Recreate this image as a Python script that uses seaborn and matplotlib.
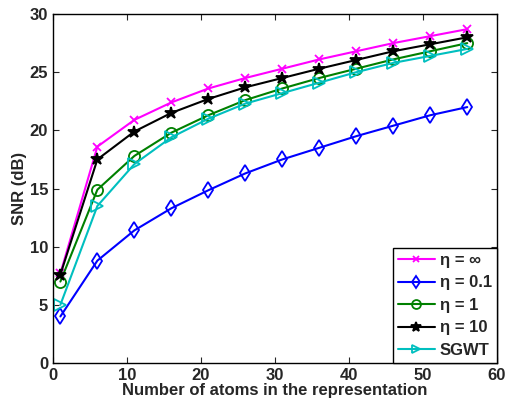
import numpy as np
import pandas as pd
import matplotlib
matplotlib.use("Agg")
import matplotlib.pyplot as plt
import seaborn as sns

# number of atoms used
atoms = [1, 6, 11, 16, 21, 26, 31, 36, 41, 46, 51, 56]

# SNR (dB)
snr_inf = [7.7, 18.6, 20.9, 22.4, 23.6, 24.5, 25.3, 26.1, 26.8, 27.5, 28.1, 28.7]
snr_01 = [4.0, 8.8, 11.4, 13.3, 14.85, 16.3, 17.5, 18.5, 19.5, 20.4, 21.3, 22.0]
snr_1 = [7.0, 14.9, 17.8, 19.8, 21.3, 22.6, 23.6, 24.5, 25.3, 26.1, 26.8, 27.5]
snr_10 = [7.6, 17.5, 19.9, 21.5, 22.7, 23.7, 24.5, 25.3, 26.05, 26.8, 27.4, 28.0]
snr_sgwt = [5.0, 13.5, 17.1, 19.4, 21.0, 22.3, 23.2, 24.1, 25.0, 25.8, 26.4, 27.0]

labels = ["\u03b7 = \u221e", "\u03b7 = 0.1", "\u03b7 = 1", "\u03b7 = 10", "SGWT"]

sns.set_style("ticks")
plt.rcParams['font.family'] = ['Liberation Sans', 'DejaVu Sans']
plt.rcParams['font.weight'] = 'bold'
plt.rcParams['axes.labelweight'] = 'bold'

series = [snr_inf, snr_01, snr_1, snr_10, snr_sgwt]
colors = ['#ff00ff', '#0000ff', '#008000', '#000000', '#00bfbf']
markers = ['x', 'd', 'o', '*', '>']
fills = ['#ff00ff', 'none', 'none', '#000000', 'none']
msizes = [6, 8, 8, 9, 8]

fig = plt.figure(figsize=(5.07, 4.01), dpi=100)
ax = fig.add_axes([0.1045, 0.0948, 0.8755, 0.8702])

for vals, lab, c, m, f, ms in zip(series, labels, colors, markers, fills, msizes):
    df = pd.DataFrame({'atoms': atoms, 'snr': vals})
    sns.lineplot(data=df, x='atoms', y='snr', ax=ax, color=c, marker=m,
                 markerfacecolor=f, markeredgecolor=c, markeredgewidth=1.3,
                 markersize=ms, linewidth=1.5, label=lab)

ax.set_xlim(0, 60)
ax.set_ylim(0, 30)
ax.set_xticks(np.arange(0, 61, 10))
ax.set_yticks(np.arange(0, 31, 5))
ax.tick_params(direction='in', top=True, right=True, labelsize=12, length=4, width=0.8)
for s in ax.spines.values():
    s.set_linewidth(1.0)
    s.set_color('black')
ax.set_xlabel('Number of atoms in the representation', fontsize=12, labelpad=0)
ax.set_ylabel('SNR (dB)', fontsize=12, labelpad=2)

leg = ax.legend(loc='lower right', fontsize=12, frameon=True, fancybox=False,
                edgecolor='black', framealpha=1, borderaxespad=0,
                handlelength=2.2, handletextpad=0.3, labelspacing=0.45,
                borderpad=0.3, markerscale=0.8)
leg.get_frame().set_linewidth(1.0)

fig.savefig('out.png', dpi=100)
